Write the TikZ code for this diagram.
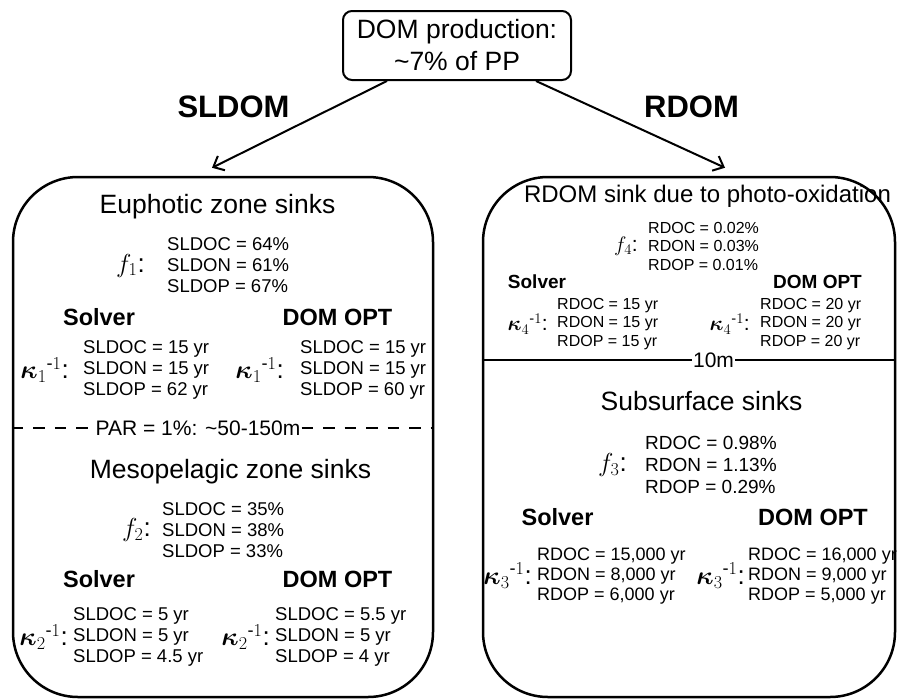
\RequirePackage{fix-cm}
\documentclass[tikz,border=0pt]{standalone}
\usepackage{amsmath}
\usepackage{fontspec}
\setmainfont{Liberation Sans}
\usepackage{tikz}
\usetikzlibrary{arrows.meta, positioning}

\newcommand{\invk}[1]{$\boldsymbol{\kappa}_{#1}{}^{\text{-}1}$:}

\begin{document}
\begin{tikzpicture}[x=1pt, y=-1pt,
        sinkbox/.style={draw, line width=2.5pt, rounded corners=65pt, inner sep=0pt},
        headtxt/.style={font=\fontsize{26.5}{30}\selectfont, anchor=base, inner sep=0pt},
        modeltxt/.style={font=\bfseries\fontsize{23.5}{27}\selectfont, anchor=base, inner sep=0pt},
        datatxt/.style={font=\fontsize{18.5}{21}\selectfont, align=left, anchor=west, inner sep=0pt},
        symtxt/.style={font=\fontsize{26}{30}\selectfont, inner sep=0pt},
        depthtxt/.style={font=\fontsize{21}{24}\selectfont, inner xsep=1pt, inner ysep=0pt},
        flow/.style={-{Straight Barb[length=9pt,width=16pt]}, line width=2pt}]
        \useasboundingbox (0,0) rectangle (897,699);

        \node[draw, line width=2pt, rounded corners=9pt, minimum width=228pt, minimum height=69pt,
              align=center, font=\fontsize{26.5}{32}\selectfont] (dom) at (457,45.5)
              {DOM production:\\\textasciitilde7\% of PP};
        \node[font=\bfseries\fontsize{31}{34}\selectfont, anchor=base, inner sep=0pt] (sldom) at (233.5,117) {SLDOM};
        \node[font=\bfseries\fontsize{31}{34}\selectfont, anchor=base, inner sep=0pt] (rdom) at (691.5,117) {RDOM};

        \node[sinkbox, minimum width=420pt, minimum height=520pt] (slbox) at (223,437) {};
        \node[sinkbox, minimum width=412pt, minimum height=520pt] (rbox) at (689,437) {};

        \draw[flow] ([xshift=45pt]dom.south west) -- ([xshift=-11pt,yshift=8pt]slbox.north);
        \draw[flow] ([xshift=-36pt]dom.south east) -- ([xshift=36pt,yshift=8pt]rbox.north);

        % SLDOM, euphotic zone
        \node[headtxt] (euph) at (217.5,213) {Euphotic zone sinks};
        \node[datatxt] (f1dat) at (167,265.5) {SLDOC = 64\%\\SLDON = 61\%\\SLDOP = 67\%};
        \node[symtxt, left=22pt of f1dat] (f1sym) {$f_1$:};
        \node[modeltxt] (solv1) at (99,325) {Solver};
        \node[modeltxt] (opt1) at (337.5,325) {DOM OPT};
        \node[datatxt] (k1dat) at (83,370.3) {SLDOC = 15 yr\\SLDON = 15 yr\\SLDOP = 62 yr};
        \node[symtxt, left=14pt of k1dat] (k1sym) {\invk{1}};
        \node[datatxt] (k1opt) at (300,370.3) {SLDOC = 15 yr\\SLDON = 15 yr\\SLDOP = 60 yr};
        \node[symtxt, left=16pt of k1opt] (k1osym) {\invk{1}};

        \node[depthtxt] (par) at (198,428) {PAR = 1\%: \textasciitilde50-150m};
        \draw[line width=2pt, dash pattern=on 11.5pt off 10pt] (slbox.west |- par) -- (par.west);
        \draw[line width=2pt, dash pattern=on 11.5pt off 10pt] (par.east) -- (slbox.east |- par);

        % SLDOM, mesopelagic zone
        \node[headtxt] (meso) at (230.5,478) {Mesopelagic zone sinks};
        \node[datatxt] (f2dat) at (162,530.3) {SLDOC = 35\%\\SLDON = 38\%\\SLDOP = 33\%};
        \node[symtxt, left=11pt of f2dat] (f2sym) {$f_2$:};
        \node[modeltxt] (solv2) at (99,587) {Solver};
        \node[modeltxt] (opt2) at (337.5,587) {DOM OPT};
        \node[datatxt] (k2dat) at (73,637.3) {SLDOC = 5 yr\\SLDON = 5 yr\\SLDOP = 4.5 yr};
        \node[symtxt, left=5pt of k2dat] (k2sym) {\invk{2}};
        \node[datatxt] (k2opt) at (275,637.3) {SLDOC = 5.5 yr\\SLDON = 5 yr\\SLDOP = 4 yr};
        \node[symtxt, left=5pt of k2opt] (k2osym) {\invk{2}};

        % RDOM, photo-oxidation
        \node[headtxt, font=\fontsize{24}{27}\selectfont] (photo) at (707.5,202) {RDOM sink due to photo-oxidation};
        \node[datatxt, font=\fontsize{16}{18.5}\selectfont] (f4dat) at (648,246.2) {RDOC = 0.02\%\\RDON = 0.03\%\\RDOP = 0.01\%};
        \node[symtxt, font=\fontsize{21}{24}\selectfont, left=10pt of f4dat] (f4sym) {$f_4$:};
        \node[modeltxt, font=\bfseries\fontsize{19}{22}\selectfont] (solv4) at (537,288) {Solver};
        \node[modeltxt, font=\bfseries\fontsize{19}{22}\selectfont] (opt4) at (817.5,288) {DOM OPT};
        \node[datatxt, font=\fontsize{16}{18.5}\selectfont] (k4dat) at (557,324) {RDOC = 15 yr\\RDON = 15 yr\\RDOP = 15 yr};
        \node[symtxt, font=\fontsize{21}{24}\selectfont, left=9pt of k4dat] (k4sym) {\invk{4}};
        \node[datatxt, font=\fontsize{16}{18.5}\selectfont] (k4opt) at (760,324) {RDOC = 20 yr\\RDON = 20 yr\\RDOP = 20 yr};
        \node[symtxt, font=\fontsize{21}{24}\selectfont, left=10pt of k4opt] (k4osym) {\invk{4}};

        \node[depthtxt] (tenm) at (713.5,360) {10m};
        \draw[line width=2pt] (rbox.west |- tenm) -- (tenm.west);
        \draw[line width=2pt] (tenm.east) -- (rbox.east |- tenm);

        % RDOM, subsurface
        \node[headtxt] (subs) at (701.5,410) {Subsurface sinks};
        \node[datatxt, font=\fontsize{19}{22}\selectfont] (f3dat) at (645,465) {RDOC = 0.98\%\\RDON = 1.13\%\\RDOP = 0.29\%};
        \node[symtxt, left=18pt of f3dat] (f3sym) {$f_3$:};
        \node[modeltxt] (solv3) at (557.5,525) {Solver};
        \node[modeltxt] (opt3) at (813,525) {DOM OPT};
        \node[datatxt, font=\fontsize{18}{20}\selectfont] (k3dat) at (537,575.6) {RDOC = 15,000 yr\\RDON = 8,000 yr\\RDOP = 6,000 yr};
        \node[symtxt, left=5pt of k3dat] (k3sym) {\invk{3}};
        \node[datatxt, font=\fontsize{18}{20}\selectfont] (k3opt) at (748,575.6) {RDOC = 16,000 yr\\RDON = 9,000 yr\\RDOP = 5,000 yr};
        \node[symtxt, left=3pt of k3opt] (k3osym) {\invk{3}};
    \end{tikzpicture}
\end{document}
